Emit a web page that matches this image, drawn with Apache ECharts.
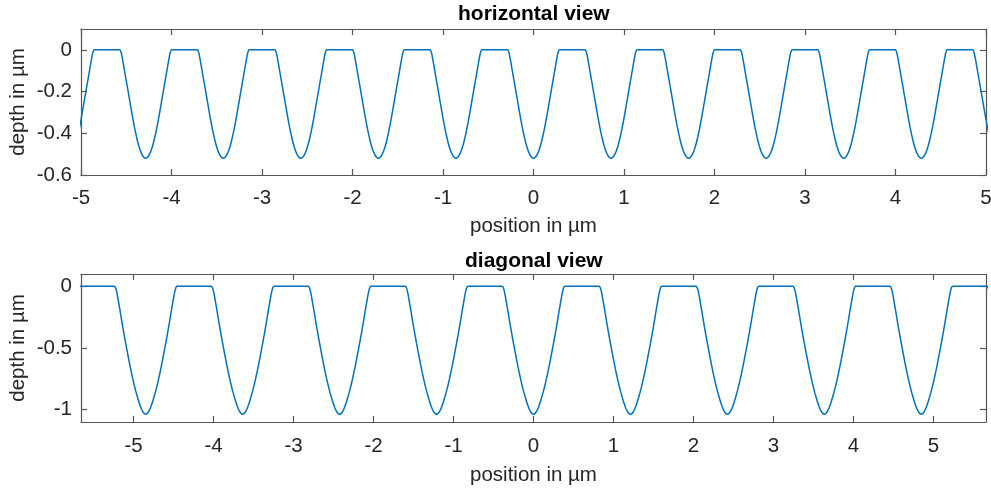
<!DOCTYPE html>
<html><head><meta charset="utf-8">
<script src="https://cdn.jsdelivr.net/npm/echarts@6/dist/echarts.min.js"></script>
<style>html,body{margin:0;padding:0;background:#fff}#c{width:991px;height:488px}</style>
</head><body><div id="c"></div>
<script>
// ---- texts ----
const hTitle = 'horizontal view';
const dTitle = 'diagonal view';
const xName = 'position in µm';
const yName = 'depth in µm';

// ---- axis ranges & tick labels ----
const hXRange = [-5, 5];
const hYRange = [-0.6, 0.1];
const hXTicks = [-5, -4, -3, -2, -1, 0, 1, 2, 3, 4, 5];
const hYTicks = [-0.6, -0.4, -0.2, 0];
const dXRange = [-5.657, 5.657];
const dYRange = [-1.1, 0.1];
const dXTicks = [-5, -4, -3, -2, -1, 0, 1, 2, 3, 4, 5];
const dYTicks = [-1, -0.5, 0];

// ---- horizontal view: groove centres (minima) and half-profile ----
const hCenters = [-5.14, -4.285, -3.428, -2.571, -1.714, -0.857, 0, 0.857, 1.714, 2.571, 3.428, 4.285, 5.14];
const hProfileDx    = [0, 0.02, 0.04, 0.06, 0.08, 0.10, 0.12, 0.14, 0.16, 0.18, 0.20, 0.22, 0.24, 0.255, 0.265, 0.275, 0.285, 0.4285];
const hProfileDepth = [-0.52, -0.515, -0.502, -0.482, -0.455, -0.42, -0.38, -0.335, -0.285, -0.235, -0.185, -0.135, -0.085, -0.048, -0.024, -0.008, 0, 0];

// ---- diagonal view ----
const dCenters = [-6.06, -4.848, -3.636, -2.424, -1.212, 0, 1.212, 2.424, 3.636, 4.848, 6.06];
const dProfileDx    = [0, 0.02, 0.04, 0.06, 0.08, 0.10, 0.12, 0.14, 0.16, 0.18, 0.20, 0.22, 0.24, 0.26, 0.28, 0.30, 0.32, 0.34, 0.355, 0.367, 0.378, 0.39, 0.606];
const dProfileDepth = [-1.037, -1.03, -1.012, -0.984, -0.948, -0.905, -0.86, -0.81, -0.755, -0.695, -0.632, -0.565, -0.497, -0.427, -0.355, -0.28, -0.2, -0.125, -0.07, -0.033, -0.01, 0, 0];

function buildLine(centers, dx, depth) {
  const pts = [];
  centers.forEach(c => {
    for (let i = dx.length - 1; i >= 1; i--) pts.push([c - dx[i], depth[i]]);
    for (let i = 0; i < dx.length; i++) pts.push([c + dx[i], depth[i]]);
  });
  return pts;
}

const AX = '#555555';
const TXT = '#262626';
const FONT = 'Liberation Sans, Arial, Helvetica, sans-serif';

function xAxes(gi, range, ticks, gap, margin) {
  const base = {
    type: 'value', gridIndex: gi, min: range[0], max: range[1],
    splitLine: { show: false },
    axisLine: { show: true, onZero: false, lineStyle: { color: AX, width: 1.2 } },
    axisTick: { show: true, inside: true, length: 6, customValues: ticks, lineStyle: { color: AX, width: 1.2 } }
  };
  return [
    Object.assign({}, base, {
      position: 'bottom',
      axisLabel: { customValues: ticks, fontSize: 20.5, color: TXT, margin: margin, fontFamily: FONT },
      name: xName, nameLocation: 'middle', nameGap: gap, nameMoveOverlap: false,
      nameTextStyle: { fontSize: 20.5, color: TXT, fontFamily: FONT }
    }),
    Object.assign({}, base, { position: 'top', axisLabel: { show: false } })
  ];
}
function yAxes(gi, range, ticks) {
  const base = {
    type: 'value', gridIndex: gi, min: range[0], max: range[1],
    splitLine: { show: false },
    axisLine: { show: true, onZero: false, lineStyle: { color: AX, width: 1.2 } },
    axisTick: { show: true, inside: true, length: 6, customValues: ticks, lineStyle: { color: AX, width: 1.2 } }
  };
  return [
    Object.assign({}, base, {
      position: 'left',
      axisLabel: { customValues: ticks, fontSize: 20.5, color: TXT, margin: 9, fontFamily: FONT },
      name: yName, nameLocation: 'middle', nameGap: 52, nameMoveOverlap: false,
      nameTextStyle: { fontSize: 20.5, color: TXT, fontFamily: FONT }
    }),
    Object.assign({}, base, { position: 'right', axisLabel: { show: false } })
  ];
}

const chart = echarts.init(document.getElementById('c'), null, { renderer: 'canvas' });
chart.setOption({
  animation: false,
  backgroundColor: '#ffffff',
  grid: [
    { left: 81, right: 5, top: 29, height: 146, containLabel: false, outerBoundsMode: 'none' },
    { left: 81, right: 5, top: 274, height: 148, containLabel: false, outerBoundsMode: 'none' }
  ],
  xAxis: [].concat(xAxes(0, hXRange, hXTicks, 41, 13), xAxes(1, dXRange, dXTicks, 43, 14)),
  yAxis: [].concat(yAxes(0, hYRange, hYTicks), yAxes(1, dYRange, dYTicks)),
  graphic: [
    { type: 'text', left: 533 - 75, top: 4, style: { text: hTitle, fill: '#000', font: 'bold 21px ' + FONT } },
    { type: 'text', left: 533 - 68, top: 251, style: { text: dTitle, fill: '#000', font: 'bold 21px ' + FONT } }
  ],
  series: [
    { type: 'line', xAxisIndex: 0, yAxisIndex: 0, data: buildLine(hCenters, hProfileDx, hProfileDepth),
      showSymbol: false, smooth: 0.2, clip: true,
      lineStyle: { color: '#0072BD', width: 1.5 } },
    { type: 'line', xAxisIndex: 2, yAxisIndex: 2, data: buildLine(dCenters, dProfileDx, dProfileDepth),
      showSymbol: false, smooth: 0.2, clip: true,
      lineStyle: { color: '#0072BD', width: 1.5 } }
  ]
});
</script>
</body></html>
